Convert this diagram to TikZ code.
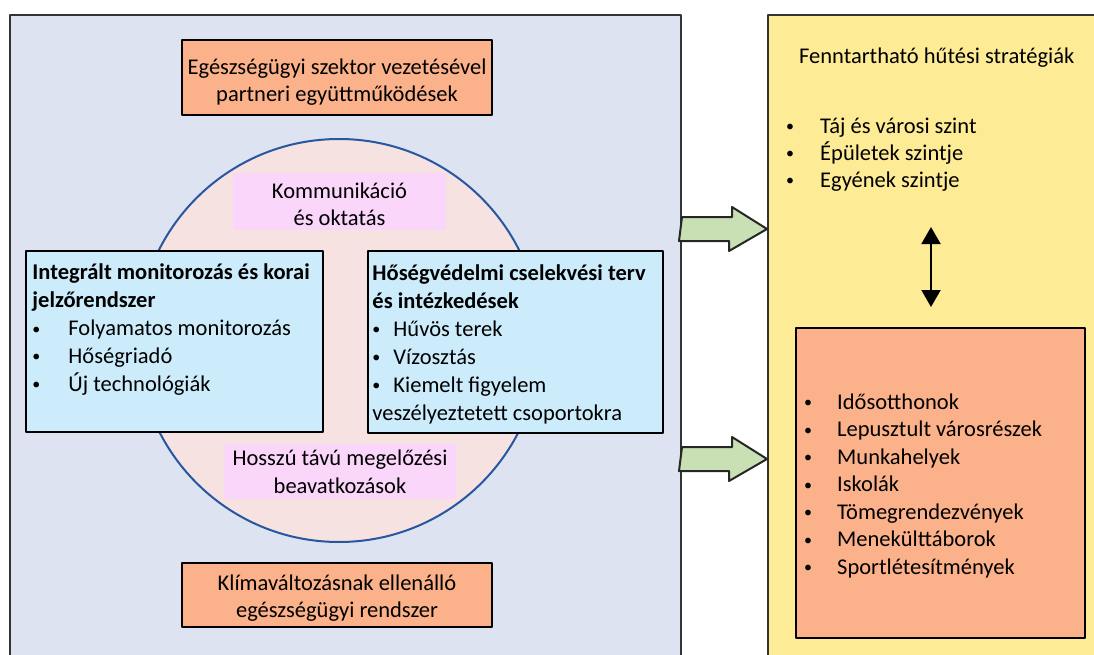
\documentclass[tikz,border=0pt]{standalone}
\usepackage{fontspec}
\setmainfont{Carlito}
\usetikzlibrary{arrows.meta}
\definecolor{paneblue}{HTML}{DDE3F0}
\definecolor{paneyellow}{HTML}{FEEB96}
\definecolor{salmon}{HTML}{FBB18A}
\definecolor{ringpink}{HTML}{F7E2E2}
\definecolor{ringblue}{HTML}{2657A0}
\definecolor{lblpink}{HTML}{FAD6FA}
\definecolor{boxcyan}{HTML}{CCECFC}
\definecolor{arrgreen}{HTML}{C8E0B4}
\newcommand{\bul}[1]{\makebox[#1][l]{\raisebox{1.5pt}{\fontsize{16}{16}\selectfont\textbullet}}}
\begin{document}
\begin{tikzpicture}[x=1pt,y=-1pt,line cap=round,line join=round,
	font=\fontsize{22.5}{27.5}\selectfont,
	panel/.style={draw=black!80,line width=2pt,anchor=north west,inner sep=0},
	orangebox/.style={draw=black,line width=1.5pt,fill=salmon,inner sep=0},
	bluebox/.style={draw=black,line width=1.5pt,fill=boxcyan,inner sep=0},
	pinklbl/.style={fill=lblpink,inner sep=0},
	boxtxt/.style={align=center,inner sep=0},
	listtxt/.style={anchor=north west,align=left,inner sep=0},
	greenarr/.style={draw=black!85,line width=2pt,fill=arrgreen},
	dblarr/.style={line width=2pt,{Triangle[width=19pt,length=17pt]}-{Triangle[width=19pt,length=17pt]}}]
	\useasboundingbox (0,0) rectangle (1094,655);
	\clip (0,0) rectangle (1094,655);
	\node[panel,fill=paneblue,minimum width=671pt,minimum height=700pt] (pnlL) at (9,14) {};
	\node[panel,fill=paneyellow,minimum width=400pt,minimum height=700pt] (pnlR) at (767,14) {};
	\node[circle,draw=ringblue,line width=2pt,fill=ringpink,minimum size=403pt,inner sep=0] (ring) at (339,340.5) {};
	\node[orangebox,minimum width=310pt,minimum height=75pt] (partner) at (337,77.5) {};
	\node[boxtxt] (partnerT) at (337,82) {Egészségügyi szektor vezetésével\\partneri együttműködések};
	\node[orangebox,minimum width=310pt,minimum height=64pt] (resil) at (337,595) {};
	\node[boxtxt] (resilT) at (337,598) {Klímaváltozásnak ellenálló\\egészségügyi rendszer};
	\node[pinklbl,minimum width=213pt,minimum height=57pt] (komm) at (339.5,201.5) {};
	\node[boxtxt] (kommT) at (339.5,204.5) {Kommunikáció\\és oktatás};
	\node[pinklbl,minimum width=232pt,minimum height=55pt] (hossz) at (340,471.5) {};
	\node[boxtxt] (hosszT) at (340,472) {Hosszú távú megelőzési\\beavatkozások};
	\node[bluebox,minimum width=297pt,minimum height=181pt] (monit) at (174.5,341.5) {};
	\node[bluebox,minimum width=295pt,minimum height=182pt] (hoseg) at (515.5,342) {};
	\node[listtxt,font=\fontsize{22.5}{27.8}\selectfont] (monitL) at ([shift={(7,10)}]monit.north west) {\strut\textbf{Integrált monitorozás és korai}\\
		\textbf{jelzőrendszer}\\
		\bul{36pt}Folyamatos monitorozás\\
		\bul{36pt}Hőségriadó\\
		\bul{36pt}Új technológiák};
	\node[listtxt,font=\fontsize{22.5}{28}\selectfont] (hosegL) at ([shift={(5,10)}]hoseg.north west) {\strut\textbf{Hőségvédelmi cselekvési terv}\\
		\textbf{és intézkedések}\\
		\bul{21pt}Hűvös terek\\
		\bul{21pt}Vízosztás\\
		\bul{21pt}Kiemelt figyelem\\
		veszélyeztetett csoportokra};
	\node[anchor=west,inner sep=0] (cool) at (799,58) {Fenntartható hűtési stratégiák};
	\node[listtxt,font=\fontsize{22.5}{27}\selectfont] (levels) at (786,114) {\strut\bul{34pt}Táj és városi szint\\
		\bul{34pt}Épületek szintje\\
		\bul{34pt}Egyének szintje};
	\node[orangebox,minimum width=289pt,minimum height=310pt] (sites) at (940.5,483) {};
	\node[listtxt] (sitesL) at (804,390) {\strut\bul{33pt}Idősotthonok\\
		\bul{33pt}Lepusztult városrészek\\
		\bul{33pt}Munkahelyek\\
		\bul{33pt}Iskolák\\
		\bul{33pt}Tömegrendezvények\\
		\bul{33pt}Menekülttáborok\\
		\bul{33pt}Sportlétesítmények};
	% arrows between the panels
	\coordinate (y1) at (0,229);
	\coordinate (y2) at (0,459);
	\draw[greenarr] (pnlL.east |- y1) ++(0,-12) -- ++(50,0) -- ++(0,-10) -- (pnlR.west |- y1) -- ++(-38,22) -- ++(0,-10) -- ++(-50,0) -- cycle;
	\draw[greenarr] (pnlL.east |- y2) ++(0,-12) -- ++(50,0) -- ++(0,-10) -- (pnlR.west |- y2) -- ++(-38,22) -- ++(0,-10) -- ++(-50,0) -- cycle;
	\coordinate (up) at (931,227);
	\coordinate (dn) at (931,307);
	\draw[dblarr] (up) -- (dn);
\end{tikzpicture}
\end{document}
